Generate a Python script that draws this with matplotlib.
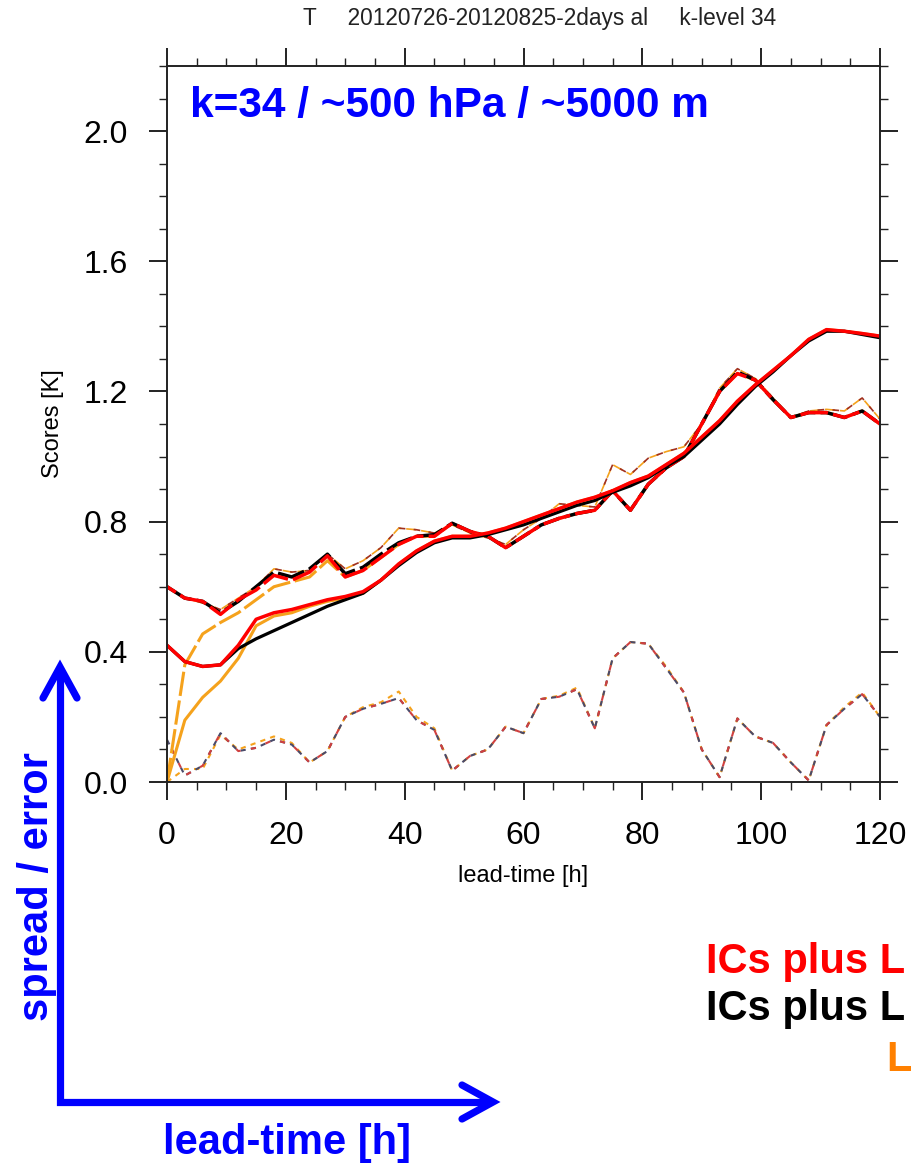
import matplotlib.pyplot as plt
from matplotlib.lines import Line2D
from matplotlib.ticker import MultipleLocator

plt.rcParams['font.family'] = ['Liberation Sans', 'DejaVu Sans']

W, H = 911, 1164

# lead time [h], every 3 hours
lead = list(range(0, 121, 3))

# spread (solid)
spread_red = [0.42, 0.37, 0.355, 0.36, 0.42, 0.50, 0.52, 0.53, 0.545, 0.56, 0.57, 0.585, 0.62, 0.67,
              0.71, 0.74, 0.755, 0.755, 0.765, 0.78, 0.80, 0.82, 0.84, 0.86, 0.875, 0.895, 0.92, 0.94,
              0.975, 1.01, 1.06, 1.11, 1.17, 1.22, 1.265, 1.31, 1.36, 1.39, 1.385, 1.378, 1.37]
spread_black = [0.42, 0.37, 0.355, 0.36, 0.41, 0.44, 0.465, 0.49, 0.515, 0.54, 0.56, 0.58, 0.62, 0.665,
                0.705, 0.735, 0.75, 0.75, 0.76, 0.775, 0.79, 0.81, 0.83, 0.85, 0.865, 0.89, 0.91, 0.935,
                0.97, 1.0, 1.05, 1.10, 1.16, 1.215, 1.26, 1.31, 1.355, 1.385, 1.385, 1.375, 1.365]
spread_orange = [0.0, 0.19, 0.26, 0.31, 0.38, 0.48, 0.51, 0.52, 0.54, 0.555, 0.565, 0.58, 0.62, 0.67,
                 0.71, 0.74, 0.755, 0.755, 0.765, 0.78, 0.80, 0.82, 0.84, 0.86, 0.875, 0.895, 0.92, 0.94,
                 0.975, 1.01, 1.06, 1.11, 1.17, 1.22, 1.265, 1.31, 1.36, 1.39, 1.385, 1.378, 1.37]

# error (long dashes)
err_red = [0.60, 0.565, 0.555, 0.515, 0.56, 0.59, 0.635, 0.62, 0.645, 0.695, 0.63, 0.65, 0.69, 0.73,
           0.755, 0.755, 0.795, 0.77, 0.755, 0.72, 0.755, 0.79, 0.81, 0.825, 0.835, 0.895, 0.835, 0.915,
           0.965, 1.0, 1.10, 1.20, 1.255, 1.235, 1.175, 1.12, 1.135, 1.135, 1.12, 1.14, 1.10]
err_black = [0.60, 0.565, 0.555, 0.52, 0.555, 0.60, 0.645, 0.63, 0.655, 0.70, 0.64, 0.66, 0.70, 0.735,
             0.755, 0.76, 0.795, 0.77, 0.755, 0.72, 0.755, 0.79, 0.81, 0.825, 0.835, 0.895, 0.835, 0.915,
             0.965, 1.0, 1.10, 1.20, 1.26, 1.235, 1.175, 1.12, 1.135, 1.135, 1.12, 1.14, 1.10]
err_orange = [0.0, 0.36, 0.455, 0.49, 0.52, 0.56, 0.60, 0.615, 0.63, 0.68, 0.63, 0.65, 0.69, 0.73,
              0.755, 0.755, 0.795, 0.77, 0.755, 0.72, 0.755, 0.79, 0.81, 0.825, 0.835, 0.895, 0.835, 0.915,
              0.965, 1.0, 1.10, 1.20, 1.255, 1.235, 1.175, 1.12, 1.135, 1.135, 1.12, 1.14, 1.10]

# second error curve (thin dashes)
err2 = [0.60, 0.565, 0.55, 0.53, 0.565, 0.60, 0.655, 0.645, 0.65, 0.70, 0.655, 0.68, 0.72, 0.78,
        0.775, 0.765, 0.79, 0.765, 0.75, 0.73, 0.775, 0.81, 0.855, 0.85, 0.845, 0.975, 0.945, 0.995,
        1.015, 1.03, 1.10, 1.21, 1.27, 1.24, 1.18, 1.12, 1.14, 1.145, 1.14, 1.18, 1.115]

# bias (dotted)
bias_dark = [0.13, 0.02, 0.05, 0.15, 0.095, 0.105, 0.13, 0.115, 0.06, 0.095, 0.20, 0.225, 0.24, 0.258,
             0.19, 0.16, 0.035, 0.08, 0.10, 0.17, 0.15, 0.255, 0.262, 0.285, 0.165, 0.38, 0.43, 0.425,
             0.35, 0.275, 0.10, 0.015, 0.195, 0.14, 0.12, 0.06, 0.005, 0.175, 0.225, 0.27, 0.20]
bias_orange = [0.0, 0.04, 0.04, 0.145, 0.10, 0.12, 0.14, 0.12, 0.06, 0.095, 0.20, 0.23, 0.245, 0.278,
               0.20, 0.165, 0.035, 0.08, 0.10, 0.17, 0.15, 0.255, 0.265, 0.29, 0.165, 0.38, 0.43, 0.425,
               0.355, 0.275, 0.10, 0.015, 0.195, 0.14, 0.12, 0.06, 0.005, 0.175, 0.23, 0.275, 0.20]

RED = '#FF0000'
BLACK = '#000000'
ORANGE = '#F5A21C'
BLUE = '#0000FF'


def fx(x):
    return x / W


def fy(y):
    return 1 - y / H


fig = plt.figure(figsize=(W / 100, H / 100), dpi=100)
ax = fig.add_axes([fx(167), fy(782), (880 - 167) / W, (782 - 66) / H])

# bias
ax.plot(lead, bias_orange, color=ORANGE, lw=1.5, linestyle=(0, (2.5, 2.5)))
ax.plot(lead, bias_dark, color='#4a4a6a', lw=1.5, linestyle=(0, (2.5, 2.5)))
ax.plot(lead, bias_dark, color='#d04040', lw=1.5, linestyle=(2.5, (2.5, 5)))

# thin dashed error
ax.plot(lead, err2, color=ORANGE, lw=1.2, linestyle=(0, (6, 3)))
ax.plot(lead, err2, color='#a03020', lw=1.2, linestyle=(4.5, (4, 5)))

# long dashed error
ax.plot(lead, err_orange, color=ORANGE, lw=2.2, linestyle=(0, (8, 1.5)))
ax.plot(lead, err_black, color=BLACK, lw=2.5, linestyle=(0, (8, 1.5)))
ax.plot(lead, err_red, color=RED, lw=2.5, linestyle=(5, (8, 1.5)))

# spread
ax.plot(lead, spread_orange, color=ORANGE, lw=2.2)
ax.plot(lead, spread_black, color=BLACK, lw=2.3)
ax.plot(lead, spread_red, color=RED, lw=2.5)

ax.set_xlim(0, 120)
ax.set_ylim(0, 2.2)
ax.xaxis.set_major_locator(MultipleLocator(20))
ax.xaxis.set_minor_locator(MultipleLocator(5))
ax.yaxis.set_major_locator(MultipleLocator(0.4))
ax.yaxis.set_minor_locator(MultipleLocator(0.1))
ax.yaxis.set_major_formatter(plt.FormatStrFormatter('%.1f'))
ax.tick_params(which='both', direction='out', top=True, right=True,
               labeltop=False, labelright=False, color='#222222')
ax.tick_params(which='major', length=13, width=1.4, labelsize=23, pad=15)
ax.tick_params(which='minor', length=6, width=1.0)
for s in ax.spines.values():
    s.set_linewidth(1.4)
    s.set_color('#222222')

ax.set_ylabel('Scores [K]', fontsize=17, labelpad=14)
ax.set_xlabel('lead-time [h]', fontsize=17, labelpad=10)

fig.text(fx(540), fy(18), 'T     20120726-20120825-2days al     k-level 34',
         ha='center', va='center', fontsize=16.3, color='#222222')

fig.text(fx(190), fy(106), 'k=34 / ~500 hPa / ~5000 m', ha='left', va='center',
         fontsize=30.5, fontweight='bold', color=BLUE)

# blue axis sketch
fig.add_artist(Line2D([fx(60), fx(60), fx(490)], [fy(672), fy(1102), fy(1102)],
                      transform=fig.transFigure, color=BLUE, lw=5.2,
                      solid_joinstyle='miter', solid_capstyle='butt'))
fig.add_artist(Line2D([fx(43), fx(60), fx(77)], [fy(698), fy(667), fy(698)],
                      transform=fig.transFigure, color=BLUE, lw=5.2,
                      solid_joinstyle='miter', solid_capstyle='round'))
fig.add_artist(Line2D([fx(462), fx(493), fx(462)], [fy(1085), fy(1102), fy(1119)],
                      transform=fig.transFigure, color=BLUE, lw=5.2,
                      solid_joinstyle='miter', solid_capstyle='round'))
fig.text(fx(37), fy(887), 'spread / error', rotation=90, ha='center', va='center',
         fontsize=30, fontweight='bold', color=BLUE)
fig.text(fx(287), fy(1143), 'lead-time [h]', ha='center', va='center',
         fontsize=30, fontweight='bold', color=BLUE)

# legend labels at the right edge
fig.text(fx(706), fy(973), 'ICs plus L', ha='left', va='baseline',
         fontsize=30, fontweight='bold', color=RED)
fig.text(fx(706), fy(1020), 'ICs plus L', ha='left', va='baseline',
         fontsize=30, fontweight='bold', color=BLACK)
fig.text(fx(886), fy(1071), 'L', ha='left', va='baseline',
         fontsize=30, fontweight='bold', color='#FF8000')

fig.savefig('out.png', dpi=100)
